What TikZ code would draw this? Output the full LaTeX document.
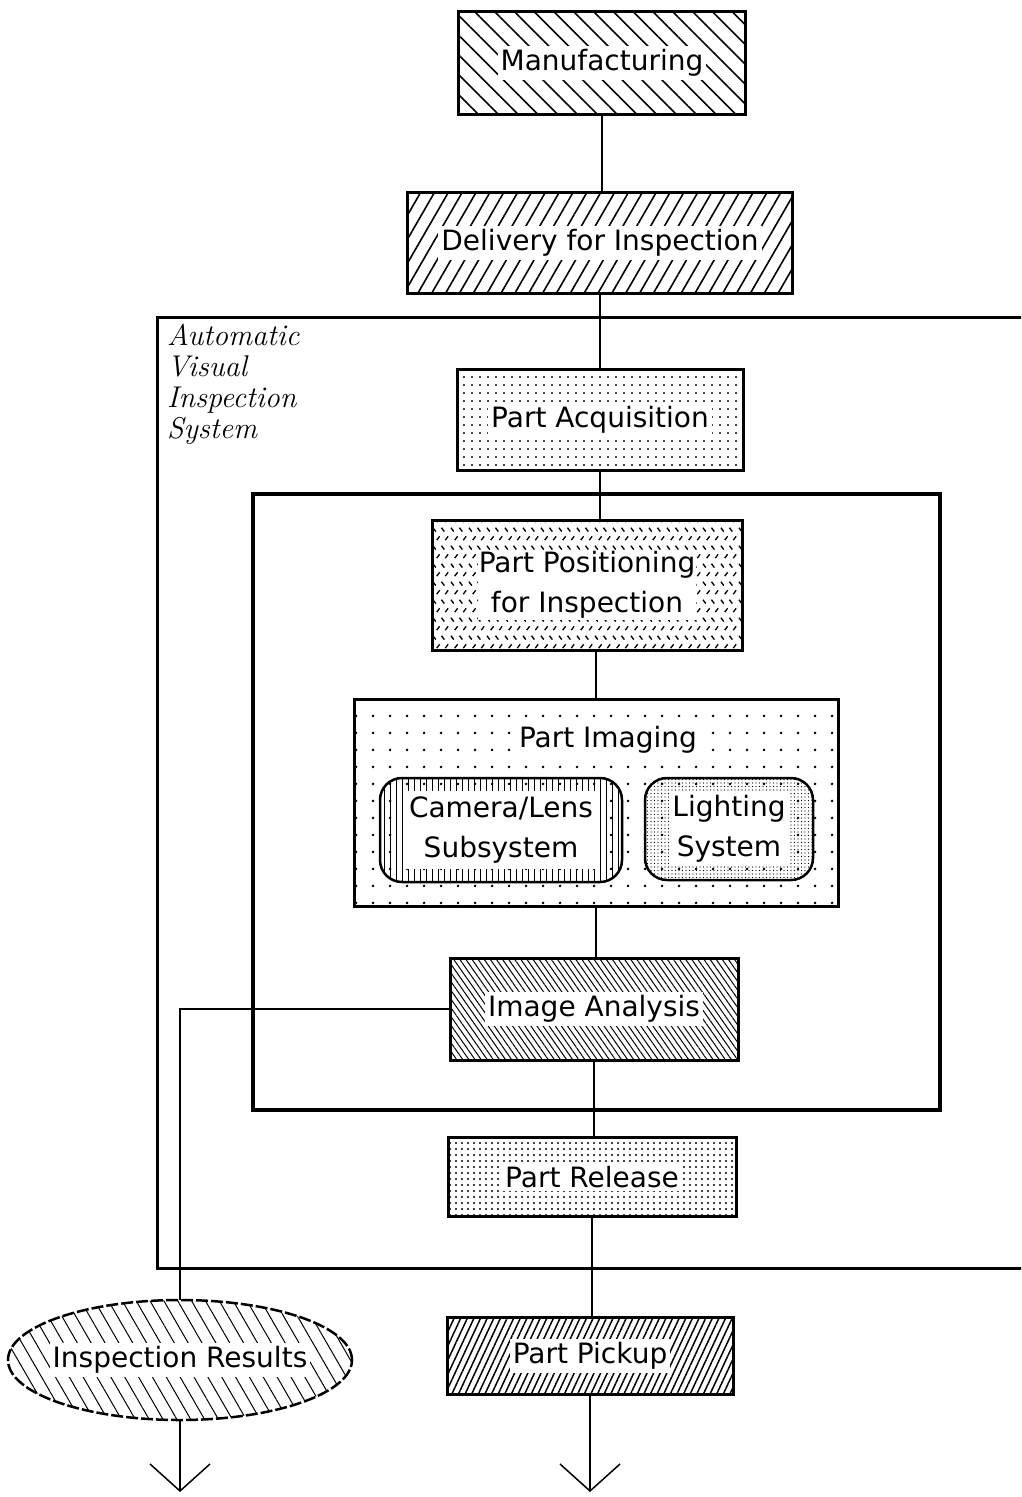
\documentclass[tikz,border=0pt]{standalone}
\usepackage{fontspec}
\newfontfamily\boxfont{DejaVu Sans}
\usetikzlibrary{patterns,patterns.meta,shapes.geometric,arrows.meta}
\pgfdeclarepatternformonly{posdash}{\pgfpointorigin}{\pgfqpoint{18pt}{18pt}}{\pgfqpoint{18pt}{18pt}}{%
  \pgfsetlinewidth{1.4pt}%
  \pgfpathmoveto{\pgfqpoint{1pt}{16pt}}\pgfpathlineto{\pgfqpoint{4pt}{12pt}}%
  \pgfpathmoveto{\pgfqpoint{10pt}{16pt}}\pgfpathlineto{\pgfqpoint{13pt}{12pt}}%
  \pgfpathmoveto{\pgfqpoint{5pt}{3pt}}\pgfpathlineto{\pgfqpoint{8pt}{7pt}}%
  \pgfpathmoveto{\pgfqpoint{14pt}{3pt}}\pgfpathlineto{\pgfqpoint{17pt}{7pt}}%
  \pgfusepath{stroke}}
\tikzset{
  box/.style={draw, line width=3pt, rectangle, inner sep=0pt},
  txt/.style={font=\boxfont\fontsize{28}{40}\selectfont, fill=white, inner sep=3pt, align=center},
  conn/.style={line width=1.5pt},
  frame/.style={draw, line width=2.5pt, rectangle, inner sep=0pt},
  innerframe/.style={draw, line width=4pt, rectangle, inner sep=0pt},
  rbox/.style={draw, line width=2.5pt, rectangle, rounded corners=22pt, inner sep=0pt},
  outarrow/.style={line width=1.5pt, -{Straight Barb[length=27pt, width=60pt, line width=1.5pt]}},
}
\begin{document}
\begin{tikzpicture}[x=1pt, y=-1pt]
\clip (0,0) rectangle (1021,1497);
\fill[white] (0,0) rectangle (1021,1497);

% frames
\node[frame, anchor=north west, minimum width=920pt, minimum height=951pt] (avis) at (156,316) {};
\node[anchor=north west, align=left, inner sep=0pt, font=\itshape\fontsize{30}{31}\selectfont] (avislbl) at (167,324) {Automatic\\Visual\\Inspection\\System};
\node[innerframe, anchor=north west, minimum width=687pt, minimum height=616pt] (core) at (251,492) {};

% boxes
\node[box, minimum width=287pt, minimum height=103pt, pattern={Lines[angle=-45, distance=14pt, line width=1.6pt]},
  label={[txt]center:Manufacturing}] (manu) at (602,63) {};
\node[box, minimum width=385pt, minimum height=101pt, pattern={Lines[angle=60, distance=12pt, line width=1.6pt]},
  label={[txt]center:Delivery for Inspection}] (deliv) at (600,243) {};
\node[box, minimum width=286pt, minimum height=101pt, pattern={Dots[distance=8pt, radius=1.1pt]},
  label={[txt]center:Part Acquisition}] (acq) at (600,420) {};
\node[box, minimum width=310pt, minimum height=130pt, pattern=posdash,
  label={[txt, inner sep=1pt]center:Part Positioning\\for Inspection}] (pos) at (587,585) {};
\node[box, minimum width=484pt, minimum height=207pt, pattern={Dots[distance=17pt, radius=1.5pt]}] (img) at (596,803) {};
\node[txt] (imgt) at (608,740) {Part Imaging};
\node[rbox, minimum width=242pt, minimum height=104pt, pattern={Lines[angle=90, distance=6pt, line width=1pt]},
  label={[txt, inner sep=6pt]center:Camera/Lens\\Subsystem}] (cam) at (501,830) {};
\node[rbox, minimum width=168pt, minimum height=102pt, pattern={Dots[distance=3.5pt, radius=0.7pt]},
  label={[txt]center:Lighting\\System}] (light) at (729,829) {};
\node[box, minimum width=288pt, minimum height=102pt, pattern={Lines[angle=-55, distance=5pt, line width=1pt]},
  label={[txt]center:Image Analysis}] (ana) at (594,1009) {};
\node[box, minimum width=288pt, minimum height=79pt, pattern={Dots[distance=6pt, radius=1.2pt]},
  label={[txt]center:Part Release}] (rel) at (592,1177) {};
\node[box, minimum width=286pt, minimum height=77pt, pattern={Lines[angle=65, distance=6pt, line width=1.5pt]},
  label={[txt]center:Part Pickup}] (pick) at (590,1356) {};
\node[ellipse, draw, line width=2.5pt, dash pattern=on 12pt off 3pt, minimum width=344pt, minimum height=120pt, inner sep=0pt,
  pattern={Lines[angle=-60, distance=12pt, line width=1pt]},
  label={[txt]center:Inspection Results}] (res) at (180,1360) {};

\coordinate (out1) at (180,1492);
\coordinate (out2) at (590,1492);

% connectors
\draw[conn] (manu.south) -- (manu.south |- deliv.north);
\draw[conn] (deliv.south) -- (deliv.south |- acq.north);
\draw[conn] (acq.south) -- (acq.south |- pos.north);
\draw[conn] (pos.south -| img.north) -- (img.north);
\draw[conn] (img.south) -- (img.south |- ana.north);
\draw[conn] (ana.south) -- (ana.south |- rel.north);
\draw[conn] (rel.south) -- (rel.south |- pick.north);
\draw[conn] (ana.west) -| (res.north);
\draw[outarrow] (res.south) -- (out1);
\draw[outarrow] (pick.south) -- (out2);
\end{tikzpicture}
\end{document}
